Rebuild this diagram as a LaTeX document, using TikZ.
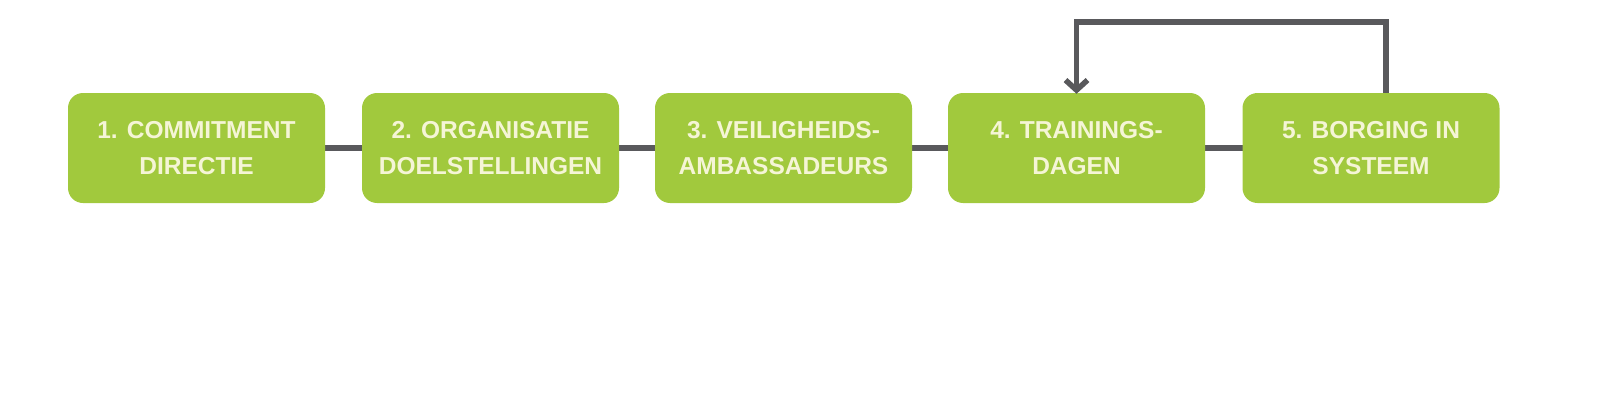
\documentclass[tikz,border=0pt]{standalone}
\usepackage{fontspec}
\setmainfont{Liberation Sans}
\usetikzlibrary{arrows.meta}
\definecolor{yyggcc}{rgb}{0.63,0.79,0.24}
\definecolor{ffffdd}{rgb}{0.96,0.96,0.84}
\definecolor{qqqqww}{rgb}{0.35,0.35,0.36}
\tikzset{
  stage/.style={rectangle,rounded corners=15pt,fill=yyggcc,text=ffffdd,minimum width=257pt,minimum height=110pt,align=center,font=\fontsize{24.5}{36}\selectfont\bfseries},
  link/.style={line width=5.5pt,color=qqqqww}
}
\begin{document}
\begin{tikzpicture}[line cap=round,line join=round,>={Straight Barb[length=10pt,width=22pt,line width=5.5pt]},x=1pt,y=1pt]
\useasboundingbox (0,0) rectangle (1600,400);
\draw [link] (196.5,252)-- (1371,252);
\node[stage] (commitment) at (196.5,252) {1. COMMITMENT\\DIRECTIE};
\node[stage] (doelen) at (490.5,252) {2. ORGANISATIE\\DOELSTELLINGEN};
\node[stage] (ambassadeurs) at (783.5,252) {3. VEILIGHEIDS-\\AMBASSADEURS};
\node[stage] (training) at (1076.5,252) {4. TRAININGS-\\DAGEN};
\node[stage] (borging) at (1371,252) {5. BORGING IN\\SYSTEEM};
\coordinate (terug) at (1230,378);
\draw [link,->,line cap=butt,line join=miter] ([xshift=15pt]borging.north) |- (terug) -| ([yshift=-1pt]training.north);
\end{tikzpicture}
\end{document}
